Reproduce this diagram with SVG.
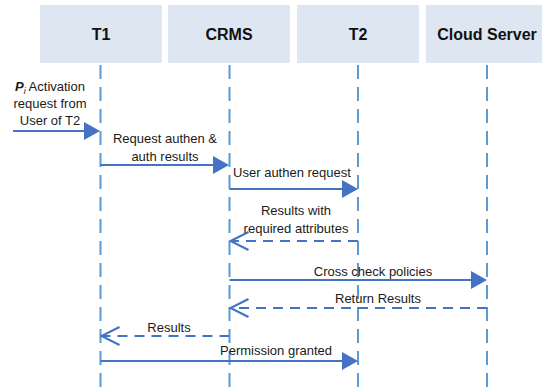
<svg xmlns="http://www.w3.org/2000/svg" width="542" height="387" viewBox="0 0 542 387">
<style>
.hdr{fill:#dee6f2;stroke:none}
.ht{font-family:"Liberation Sans",Arial,sans-serif;font-size:16px;font-weight:bold;fill:#111;text-anchor:middle}
.lbl{font-family:"Liberation Sans",Arial,sans-serif;font-size:13px;fill:#1a1a1a;text-anchor:middle}
.life{stroke:#5b9bd5;stroke-width:2;stroke-dasharray:14 8;fill:none}
.msg{stroke:#4472c4;stroke-width:2;fill:none;marker-end:url(#filled)}
.ret{stroke:#4472c4;stroke-width:2;fill:none;stroke-dasharray:10 7;marker-end:url(#open)}
</style>
<defs>
<marker id="filled" markerUnits="userSpaceOnUse" viewBox="0 0 16 18" refX="12" refY="9" markerWidth="16" markerHeight="18" orient="auto">
<path d="M0,0 L16,9 L0,18 Z" fill="#4472c4"/>
</marker>
<marker id="open" markerUnits="userSpaceOnUse" viewBox="0 0 18 18" refX="18" refY="9" markerWidth="18" markerHeight="18" orient="auto" overflow="visible">
<path d="M0,0 L18,9 L0,18" fill="none" stroke="#4472c4" stroke-width="2" stroke-dasharray="none"/>
</marker>
</defs>
<g id="T1">
<rect class="hdr" x="40" y="5" width="122" height="58"/>
<text class="ht" x="101" y="40">T1</text>
<line class="life" x1="100.5" y1="65" x2="100.5" y2="387"/>
</g>
<g id="CRMS">
<rect class="hdr" x="168" y="5" width="122" height="58"/>
<text class="ht" x="229" y="40">CRMS</text>
<line class="life" x1="229.5" y1="65" x2="229.5" y2="387"/>
</g>
<g id="T2">
<rect class="hdr" x="297" y="5" width="122" height="58"/>
<text class="ht" x="358" y="40">T2</text>
<line class="life" x1="358" y1="65" x2="358" y2="387"/>
</g>
<g id="CloudServer">
<rect class="hdr" x="426" y="5" width="122" height="58"/>
<text class="ht" x="487" y="40">Cloud Server</text>
<line class="life" x1="487" y1="65" x2="487" y2="387"/>
</g>
<g id="connectors">
<line class="msg" x1="13" y1="131" x2="96" y2="131"/>
<line class="msg" x1="100.5" y1="165" x2="225" y2="165"/>
<line class="msg" x1="229.5" y1="189" x2="354" y2="189"/>
<line class="ret" x1="358" y1="241" x2="230.5" y2="241"/>
<line class="msg" x1="229.5" y1="280" x2="483" y2="280"/>
<line class="ret" x1="487" y1="308" x2="230.5" y2="308"/>
<line class="ret" x1="229.5" y1="336" x2="101.5" y2="336"/>
<line class="msg" x1="100.5" y1="361" x2="354" y2="361"/>
</g>
<g id="labels">
<text class="lbl" x="50" y="91"><tspan font-weight="bold" font-style="italic">P</tspan><tspan font-style="italic" font-size="9px" dy="3">i</tspan><tspan dy="-3"> Activation</tspan></text>
<text class="lbl" x="50" y="108">request from</text>
<text class="lbl" x="50" y="125">User of T2</text>
<text class="lbl" x="165" y="143">Request authen &amp;</text>
<text class="lbl" x="165" y="161">auth results</text>
<text class="lbl" x="292" y="177">User authen request</text>
<text class="lbl" x="296" y="215">Results with</text>
<text class="lbl" x="296" y="233">required attributes</text>
<text class="lbl" x="373" y="276">Cross check policies</text>
<text class="lbl" x="378" y="303">Return Results</text>
<text class="lbl" x="169" y="332">Results</text>
<text class="lbl" x="276" y="355">Permission granted</text>
</g>
</svg>
